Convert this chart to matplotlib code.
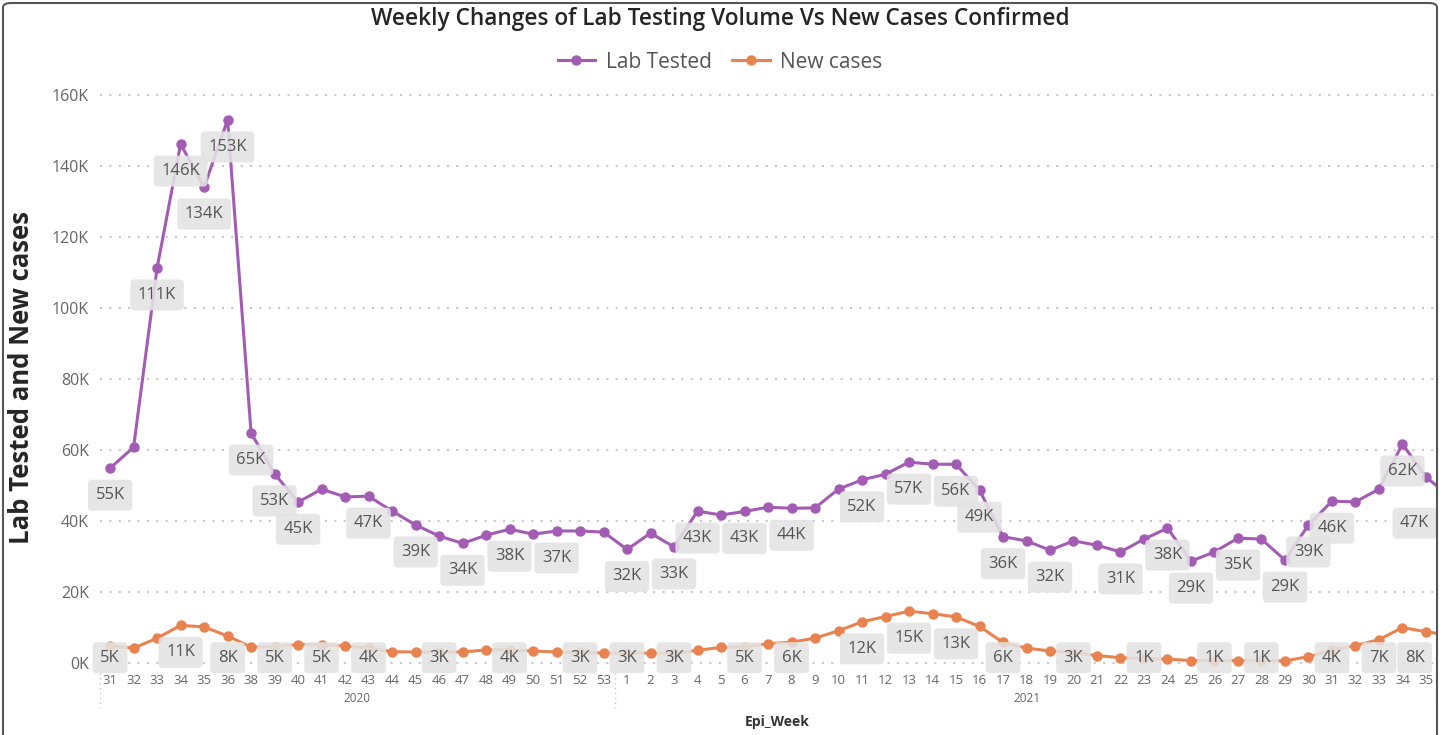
import numpy as np
import matplotlib
matplotlib.use("Agg")
import matplotlib.pyplot as plt
from matplotlib.patches import FancyBboxPatch
import matplotlib.transforms as mtransforms

plt.rcParams['font.family'] = ['Open Sans', 'DejaVu Sans']

# Epi weeks (2020 has no week 37; week 36 of 2021 is cut off at the right edge)
weeks_2020 = [31, 32, 33, 34, 35, 36, 38, 39, 40, 41, 42, 43, 44, 45, 46, 47, 48, 49, 50, 51, 52, 53]
weeks_2021 = list(range(1, 37))

# values in thousands
lab_2020 = [54.9, 60.8, 111.3, 146.2, 134.1, 153.0, 64.8, 53.3, 45.3, 49.0, 46.8, 47.0,
            42.8, 38.9, 35.8, 33.7, 36.0, 37.7, 36.3, 37.2, 37.2, 36.9]
lab_2021 = [32.0, 36.6, 32.7, 42.8, 41.7, 42.7, 43.9, 43.6, 43.7, 49.0, 51.6, 53.2,
            56.6, 56.0, 56.0, 48.7, 35.6, 34.4, 31.8, 34.4, 33.2, 31.3, 34.9, 38.0,
            28.7, 31.3, 35.2, 34.9, 29.0, 38.9, 45.6, 45.4, 49.0, 61.7, 52.4, 47.0]
cases_2020 = [4.8, 4.2, 7.0, 10.6, 10.2, 7.6, 4.5, 4.6, 5.2, 5.2, 4.8, 4.2,
              3.2, 3.1, 3.1, 3.1, 3.7, 3.7, 3.4, 3.1, 3.0, 2.8]
cases_2021 = [2.8, 2.8, 2.7, 3.6, 4.4, 4.6, 5.4, 5.9, 7.0, 9.1, 11.6, 13.1,
              14.6, 13.9, 13.0, 10.3, 5.8, 4.2, 3.4, 2.9, 2.1, 1.5, 1.2, 1.1,
              0.7, 0.7, 0.7, 0.7, 0.6, 1.8, 3.6, 4.9, 6.6, 10.0, 8.8, 7.9]

# which points carry a data label (2020 weeks / 2021 weeks)
lab_lbl_2020 = [31, 33, 34, 35, 36, 38, 39, 40, 43, 45, 47, 49, 51]
lab_lbl_2021 = [1, 3, 4, 6, 8, 11, 13, 15, 16, 17, 19, 22, 24, 25, 27, 29, 30, 31, 34, 36]
case_lbl_2020 = [31, 34, 36, 39, 41, 43, 46, 49, 52]
case_lbl_2021 = [1, 3, 6, 8, 11, 13, 15, 17, 20, 23, 26, 28, 31, 33, 36]

purple = '#a35cb3'
orange = '#e8834f'

lab = np.array(lab_2020 + lab_2021) * 1000
cases = np.array(cases_2020 + cases_2021) * 1000
x = np.arange(len(lab))
n_vis = len(weeks_2020) + 35  # weeks shown on the axis

fig = plt.figure(figsize=(14.4, 7.35), dpi=100)
ax = fig.add_axes([100 / 1440, 1 - 668 / 735, 1337 / 1440, 580 / 735])

xmin, xmax = -0.43, 56.47
ymin, ymax = -1400, 162000
ax.set_xlim(xmin, xmax)
ax.set_ylim(ymin, ymax)

ax.plot(x, lab, color=purple, lw=2.2, marker='o', ms=6.5, label='Lab Tested', zorder=3)
ax.plot(x, cases, color=orange, lw=2.2, marker='o', ms=6.5, label='New cases', zorder=3)

# y axis
yt = np.arange(0, 160001, 20000)
ax.set_yticks(yt)
ax.set_yticklabels([f'{int(v/1000)}K' for v in yt], color='#666666', fontsize=11.5)
ax.yaxis.grid(True, linestyle=(0, (1, 3.5)), color='#c8c8c8', lw=1.5)
ax.tick_params(axis='y', length=0, pad=8)
ax.set_ylabel('Lab Tested and New cases', fontsize=18.5, fontweight='bold', color='#252525', labelpad=12)

# x axis
tick_labels = [str(w) for w in weeks_2020] + [str(w) for w in weeks_2021[:35]]
ax.set_xticks(x[:n_vis])
ax.set_xticklabels(tick_labels, color='#666666', fontsize=9.5)
ax.tick_params(axis='x', length=0, pad=4)
for s in ax.spines.values():
    s.set_visible(False)

trans = mtransforms.blended_transform_factory(ax.transData, fig.transFigure)
n20 = len(weeks_2020)
ax.text((n20 - 1) / 2, 1 - 699 / 735, '2020', transform=trans, ha='center', va='center',
        fontsize=8.5, color='#666666')
ax.text(n20 + 34 / 2, 1 - 699 / 735, '2021', transform=trans, ha='center', va='center',
        fontsize=8.5, color='#666666')
for xs in [xmin + 0.02, n20 - 0.5, xmax - 0.05]:
    ax.plot([xs, xs], [1 - 668 / 735, 1 - 708 / 735], transform=trans, clip_on=False,
            color='#c8c8c8', lw=1, linestyle=(0, (1, 2.5)))
fig.text(777 / 1440, 1 - 722 / 735, 'Epi_Week', ha='center', va='center', fontsize=10,
         fontweight='bold', color='#333333')

# data labels
offset = 27 / 3.55 * 1000  # about 27 px below the point
lowest = 1500


def add_labels(values, lbl20, lbl21):
    idx = [weeks_2020.index(w) for w in lbl20] + [n20 + weeks_2021.index(w) for w in lbl21]
    for i in idx:
        v = values[i]
        xp = min(i, xmax - 0.95)
        yp = max(v - offset, lowest)
        ax.text(xp, yp, f'{round(v / 1000)}K', ha='center', va='center', fontsize=12,
                color='#555555', zorder=4,
                bbox=dict(boxstyle='round,pad=0.45,rounding_size=0.25', fc='#e3e3e3',
                          ec='none', alpha=0.88))


add_labels(lab, lab_lbl_2020, lab_lbl_2021)
add_labels(cases, case_lbl_2020, case_lbl_2021)

fig.suptitle('Weekly Changes of Lab Testing Volume Vs New Cases Confirmed', x=0.5,
             y=1 - 19 / 735, va='center', fontsize=16.3, fontweight='semibold', color='#252525')
fig.legend(loc='center', bbox_to_anchor=(0.5, 1 - 62 / 735), ncol=2, frameon=False,
           fontsize=15, labelcolor='#555555', handlelength=1.8, columnspacing=1.0,
           handletextpad=0.5)

# outer frame
frame = FancyBboxPatch((3 / 1440, -0.05), 1434 / 1440, 1.05 - 3 / 735,
                       boxstyle='round,pad=0,rounding_size=0.006', transform=fig.transFigure,
                       fc='none', ec='#555555', lw=1.5)
fig.patches.append(frame)

fig.savefig('out.png', dpi=100)
